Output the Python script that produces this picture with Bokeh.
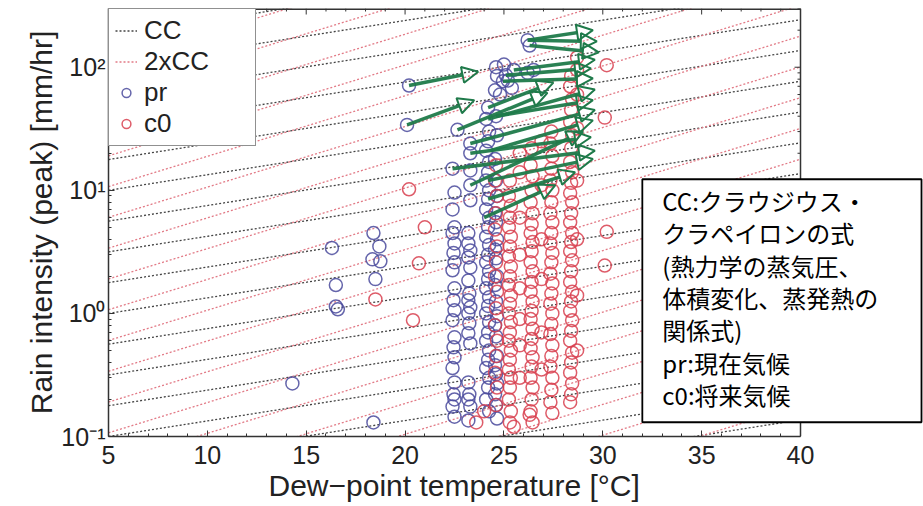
import math
from bokeh.plotting import figure
from bokeh.models import (ColumnDataSource, Arrow, NormalHead, Legend, LegendItem, Label,
                          FixedTicker, Range1d, BoxAnnotation, Span, Title)
from bokeh.embed import file_html
from bokeh.resources import INLINE

# ---------------- data ----------------
x_ticks = [5, 10, 15, 20, 25, 30, 35, 40]
y_ticks = [0.1, 1, 10, 100]
y_tick_labels = ["10⁻¹", "10⁰", "10¹", "10²"]

# reference lines: Clausius-Clapeyron scaling and twice that
cc_rate = 0.06
cc2_rate = 0.12
line_t = [5, 40]
line_start_values = [0.1 * 10 ** (k / 4) for k in range(-10, 14)]
cc2_shift = 10 ** 0.03

# pr : present climate
pr_t = [14.3, 16.3, 16.5, 16.5, 16.6, 18.4, 18.7, 18.35, 18.75, 18.5, 18.4, 20.2, 20.1,
        22.65, 22.4, 22.5, 22.4, 22.5, 22.4, 22.5, 22.45, 22.5, 22.4, 22.5, 22.45, 22.5, 22.4,
        22.5, 22.45, 22.5, 22.4, 22.5, 22.45, 22.5, 22.4, 22.5,
        23.3, 23.3, 23.3, 23.3, 23.3, 23.2, 23.2, 23.3, 23.2, 23.3, 23.2, 23.25, 23.2, 23.3,
        23.2, 23.25, 23.2, 23.3, 23.2, 23.25, 23.2, 23.3, 23.2,
        24.2, 24.1, 24.25, 24.2, 24.1, 24.25, 24.2, 24.1, 24.25, 24.2, 24.1, 24.25, 24.2, 24.1,
        24.25, 24.2, 24.1, 24.25, 24.2, 24.1, 24.25, 24.2, 24.1, 24.25, 24.2, 24.1, 24.25, 24.2,
        24.1, 24.25, 24.2, 24.1, 24.25,
        24.6, 24.65, 24.55, 24.6, 24.65, 24.55, 24.6, 24.65, 24.55, 24.6, 24.65, 24.55, 24.6,
        24.65, 24.55, 24.6, 24.65, 24.55, 24.6, 24.65, 24.55, 24.6, 24.65, 24.55, 24.6, 24.65,
        25.1, 25.5, 24.95, 26.2, 26.5, 25.2, 25.4, 26.2, 26.3, 25.0, 24.8]
pr_v = [0.27, 3.4, 1.7, 1.14, 1.08, 4.5, 3.5, 2.75, 2.65, 1.9, 0.13, 71, 34,
        31, 15, 9.6, 7.0, 5.0, 4.5, 3.7, 3.1, 2.6, 2.24, 1.6, 1.28, 1.06, 0.88,
        0.64, 0.53, 0.44, 0.36, 0.275, 0.22, 0.20, 0.175, 0.145,
        24, 20, 14.5, 11, 8.3, 4.5, 3.7, 3.25, 2.85, 2.36, 1.85, 1.45, 1.28, 1.12,
        1.0, 0.83, 0.69, 0.57, 0.275, 0.22, 0.20, 0.175, 0.135,
        47, 38, 30, 25, 21, 17, 14, 12, 10, 8.5, 7, 6, 5, 4.2,
        3.6, 3, 2.6, 2.2, 1.9, 1.6, 1.35, 1.15, 1.0, 0.85, 0.7, 0.6, 0.5, 0.42,
        0.36, 0.3, 0.25, 0.2, 0.16,
        100, 85, 65, 40, 28, 18, 12, 9, 6.5, 5.5, 4, 3.3, 2.8,
        2.0, 1.7, 1.25, 0.95, 0.8, 0.65, 0.45, 0.38, 0.32, 0.27, 0.22, 0.18, 0.14,
        86, 95, 77, 90, 95, 78, 68, 166, 150, 105, 60]

# c0 : future climate
c0_t = [18.5, 20.2, 21.0, 20.7, 20.4, 30.2, 30.1, 30.2, 30.1,
        23.6, 24.0, 25.5, 26.3,
        24.6, 24.65, 24.55, 24.6, 24.65, 24.55, 24.6, 24.65, 24.55, 24.6, 24.65, 24.55, 24.6,
        24.65, 24.55, 24.6,
        25.3, 25.25, 25.35, 25.3, 25.25, 25.35, 25.3, 25.25, 25.35, 25.3, 25.25, 25.35, 25.3,
        25.25, 25.35, 25.3, 25.25, 25.35, 25.3, 25.25, 25.35, 25.3, 25.25, 25.35, 25.3,
        25.8, 25.8, 25.8, 25.8, 25.8, 25.8, 25.8, 25.8,
        26.4, 26.35, 26.45, 26.4, 26.35, 26.45, 26.4, 26.35, 26.45, 26.4, 26.35, 26.45, 26.4,
        26.35, 26.45, 26.4, 26.35, 26.45, 26.4, 26.35, 26.45, 26.4, 26.35, 26.45, 26.4, 26.35,
        26.45,
        26.9, 26.9, 26.9, 26.9, 26.9, 26.9,
        27.4, 27.35, 27.45, 27.4, 27.35, 27.45, 27.4, 27.35, 27.45, 27.4, 27.35, 27.45, 27.4,
        27.35, 27.45, 27.4, 27.35, 27.45, 27.4, 27.35, 27.45, 27.4, 27.35, 27.45, 27.4, 27.35,
        27.45,
        28.4, 28.35, 28.45, 28.4, 28.35, 28.45, 28.4, 28.35, 28.45, 28.4, 28.35, 28.45, 28.4,
        28.35, 28.45, 28.4, 28.35, 28.45, 28.4, 28.35, 28.45, 28.4, 28.35, 28.45, 28.4, 28.35,
        28.45, 28.4, 28.35, 28.45, 28.4, 28.35,
        28.7, 28.7, 28.7, 28.7, 28.7, 28.7, 28.7, 28.7]
c0_v = [1.3, 10.2, 5.0, 2.55, 0.88, 104, 39, 4.6, 2.45,
        0.13, 0.16, 0.12, 0.15,
        0.18, 0.25, 0.33, 0.45, 0.6, 0.8, 1.1, 1.5, 2.0, 2.6, 3.5, 4.8, 6.5,
        9, 12, 16,
        12, 9, 7.5, 6, 5, 4.2, 3.5, 2.9, 2.4, 2.0, 1.7, 1.4, 1.2,
        1.0, 0.85, 0.7, 0.6, 0.5, 0.42, 0.35, 0.3, 0.25, 0.2, 0.16, 0.13,
        20, 14, 6, 3, 1.6, 0.9, 0.55, 0.3,
        22, 16, 13, 10, 8, 6.5, 5.3, 4.5, 3.8, 3.2, 2.6, 2.2, 1.8,
        1.5, 1.25, 1.05, 0.9, 0.75, 0.62, 0.52, 0.44, 0.37, 0.3, 0.25, 0.2, 0.16,
        0.13,
        25, 11, 4, 1.9, 0.7, 0.35,
        30, 24, 19, 15, 12, 10, 8, 6.5, 5.5, 4.5, 3.7, 3.1, 2.6,
        2.1, 1.75, 1.45, 1.2, 1.0, 0.82, 0.68, 0.55, 0.45, 0.37, 0.3, 0.24, 0.19,
        0.155,
        85, 70, 55, 45, 36, 28, 22, 17, 14, 11.5, 9.5, 8, 6.5,
        5.5, 4.5, 3.8, 3.2, 2.7, 2.2, 1.8, 1.5, 1.25, 1.05, 0.88, 0.72, 0.6,
        0.48, 0.4, 0.33, 0.27, 0.22, 0.19,
        120, 95, 60, 32, 12, 4, 1.4, 0.5]

# arrows pr -> c0 (start dew point / intensity, end dew point / intensity)
arrow_t0 = [20.2, 20.1, 26.2, 26.2, 26.3, 25.5, 25.1, 24.95, 24.2, 24.2, 22.65, 24.6,
            23.3, 24.3, 23.3, 22.4, 24.2, 24.0, 24.2, 23.3]
arrow_v0 = [71, 34, 166, 166, 150, 95, 86, 77, 47, 38, 31, 40,
            24, 21, 20, 15, 12, 6.0, 8.5, 11]
arrow_t1 = [23.7, 23.5, 29.5, 29.7, 29.8, 29.6, 29.4, 29.5, 27.5, 29.6, 27.2, 29.5,
            29.6, 29.5, 29.4, 29.6, 29.5, 27.6, 28.6, 29.0]
arrow_v1 = [92, 54, 200, 162, 132, 115, 98, 81, 75, 66, 62, 54,
            45, 37, 27, 21, 18, 11, 14, 30]

note_lines = ["CC:クラウジウス・", "クラペイロンの式", "(熱力学の蒸気圧、",
              "体積変化、蒸発熱の", "関係式)", "pr:現在気候", "c0:将来気候"]
x_title = "Dew−point temperature [°C]"
y_title = "Rain intensity (peak) [mm/hr]"

# ---------------- figure ----------------
FONT = "Liberation Sans"
AX = "#333333"
TXT = "#222222"
W, H = 923, 506
LEFT, TOP, BOTTOM = 108, 8, 70
X0, X1 = 5, 40
Y0, Y1 = 0.1, 300
frame_w_axis = 692.0                         # pixel length of the 5..40 span
px_per_deg = frame_w_axis / (X1 - X0)
x_end = X1 + (W - LEFT - frame_w_axis) / px_per_deg   # frame runs on under the note box
frame_h = H - TOP - BOTTOM
px_per_decade = frame_h / (math.log10(Y1) - math.log10(Y0))

p = figure(width=W, height=H, x_range=Range1d(X0, x_end), y_range=Range1d(Y0, Y1),
           y_axis_type="log", output_backend="svg", toolbar_location=None,
           min_border_left=LEFT, min_border_right=0, min_border_top=TOP,
           min_border_bottom=BOTTOM)
p.grid.visible = False
p.outline_line_color = None
p.background_fill_color = "white"
p.border_fill_color = "white"

cc_xs, cc_ys, cc2_xs, cc2_ys = [], [], [], []
span = line_t[1] - line_t[0]
for b in line_start_values:
    cc_xs.append(line_t)
    cc_ys.append([b, b * (1 + cc_rate) ** span])
    b2 = b * cc2_shift
    cc2_xs.append(line_t)
    cc2_ys.append([b2, b2 * (1 + cc2_rate) ** span])

r_cc = p.multi_line(cc_xs, cc_ys, line_color="#444444", line_width=1.3, line_dash="2 2")
r_cc2 = p.multi_line(cc2_xs, cc2_ys, line_color="#e27a86", line_width=1.3, line_dash="2 2")

r_pr = p.scatter(pr_t, pr_v, marker="circle", size=13, fill_color=None,
                 line_color="#4a4a9c", line_width=1.5, line_alpha=0.85)
r_c0 = p.scatter(c0_t, c0_v, marker="circle", size=13, fill_color=None,
                 line_color="#d8404f", line_width=1.5, line_alpha=0.85)

GREEN = "#1f7a4a"
asrc = ColumnDataSource(dict(x0=arrow_t0, y0=arrow_v0, x1=arrow_t1, y1=arrow_v1))
p.add_layout(Arrow(end=NormalHead(size=16, fill_alpha=0, line_color=GREEN, line_width=2),
                   x_start="x0", y_start="y0", x_end="x1", y_end="y1", source=asrc,
                   line_color=GREEN, line_width=3.5, line_alpha=0.95))

# axes ticks
minor_x = [t for t in range(X0, X1 + 1) if t % 5]
minor_y = []
for d in [0.1, 1, 10, 100]:
    for m in range(2, 10):
        if d * m <= Y1:
            minor_y.append(d * m)

# frame: top and right edges with inward ticks (left/bottom come from the axes)
p.segment(x0=[X0], y0=[Y1], x1=[X1], y1=[Y1], line_color=AX, line_width=3)
p.add_layout(Span(location=X1, dimension="height", line_color=AX, line_width=1.5))
tx, ty0, ty1 = [], [], []
for t, ln in [(t, 6) for t in x_ticks] + [(t, 3) for t in minor_x]:
    tx.append(t)
    ty0.append(Y1)
    ty1.append(Y1 * 10 ** (-ln / px_per_decade))
p.segment(x0=tx, y0=ty0, x1=tx, y1=ty1, line_color=AX, line_width=1)
rx0, rx1, ry = [], [], []
for v, ln in [(v, 6) for v in y_ticks] + [(v, 3) for v in minor_y]:
    ry.append(v)
    rx0.append(X1)
    rx1.append(X1 - ln / px_per_deg)
p.segment(x0=rx0, y0=ry, x1=rx1, y1=ry, line_color=AX, line_width=1)

def style_axis(ax):
    ax.major_tick_in = 6
    ax.major_tick_out = 0
    ax.minor_tick_in = 3
    ax.minor_tick_out = 0
    ax.axis_line_color = AX
    ax.axis_line_width = 1.5
    ax.major_tick_line_color = AX
    ax.minor_tick_line_color = AX
    ax.major_label_text_font = FONT
    ax.major_label_text_font_size = "25px"
    ax.major_label_text_color = TXT

xa = p.xaxis[0]
xa.ticker = FixedTicker(ticks=x_ticks, minor_ticks=minor_x)
xa.bounds = (X0, X1)
style_axis(xa)
xa.major_label_standoff = 9

ya = p.yaxis[0]
ya.ticker = FixedTicker(ticks=y_ticks, minor_ticks=minor_y)
style_axis(ya)
ya.major_label_overrides = dict(zip(y_ticks, y_tick_labels))
ya.major_label_standoff = 3

# axis titles as titles, so they can be centred on the 5..40 span
p.add_layout(Title(text=x_title, align="left", offset=160, text_font=FONT,
                   text_font_size="30px", text_font_style="normal", text_color=TXT,
                   standoff=0), "below")
p.add_layout(Title(text=y_title, align="center", offset=-14, text_font=FONT,
                   text_font_size="30px", text_font_style="normal", text_color=TXT,
                   standoff=2), "left")

legend = Legend(items=[LegendItem(label="CC", renderers=[r_cc]),
                       LegendItem(label="2xCC", renderers=[r_cc2]),
                       LegendItem(label="pr", renderers=[r_pr]),
                       LegendItem(label="c0", renderers=[r_c0])],
                location="top_left", margin=0, padding=6, spacing=0,
                glyph_width=22, glyph_height=29, label_height=29, label_width=105,
                label_standoff=7, label_text_font=FONT, label_text_font_size="26px",
                label_text_color=TXT, border_line_color=TXT,
                border_line_width=1.5, background_fill_alpha=1)
p.add_layout(legend)

# explanatory note box
box_left, box_top = 32.0, 12.3
box_right = X0 + (921 - LEFT) / px_per_deg
box_bottom = box_top * 10 ** (-243 / px_per_decade)
p.add_layout(BoxAnnotation(left=box_left, right=box_right, top=box_top, bottom=box_bottom,
                           fill_color="white", fill_alpha=1, line_color="black",
                           line_width=1.8, line_alpha=1))
text_x = box_left + 20 / px_per_deg
for i, line in enumerate(note_lines):
    yy = box_top * 10 ** (-(21 + 32.4 * i) / px_per_decade)
    p.add_layout(Label(x=text_x, y=yy, text=line, text_baseline="middle", text_align="left",
                       text_font="Noto Sans CJK JP", text_font_size="24px",
                       text_color="black"))

open("out.html", "w").write(file_html(p, INLINE))
